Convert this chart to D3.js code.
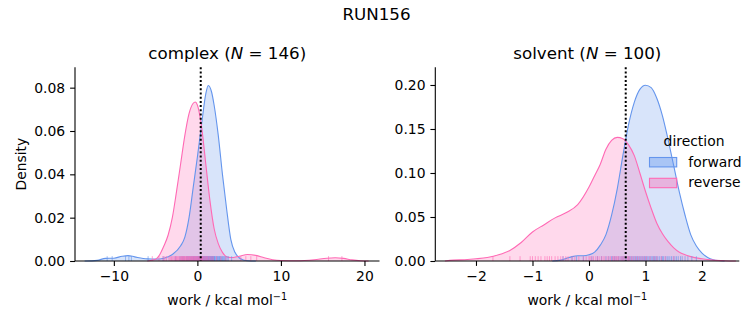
<!DOCTYPE html>
<html><head><meta charset="utf-8">
<script src="https://cdn.jsdelivr.net/npm/d3@7"></script>
<style>
body{margin:0;background:#fff;}
text{font-family:"DejaVu Sans",sans-serif;fill:#000;}
</style></head>
<body><svg id="c" width="753" height="325"></svg>
<script>
// ---- data ----
const suptitle = "RUN156";
const directions = ["forward", "reverse"];
const colors = ["#6495ED", "#FF69B4"];

// complex phase density curves
const complexForwardX = [-13.5,-12,-11,-10,-9,-8.3,-7.5,-6,-5,-4,-3,-2,-1.5,-1,-0.5,0,0.5,1,1.3,1.7,2,2.5,3,3.5,4,4.5,5,5.5,6,7];
const complexForwardY = [0,0.0003,0.0012,0.0013,0.0022,0.0025,0.0019,0.001,0.0009,0.0013,0.003,0.007,0.011,0.02,0.034,0.048,0.063,0.077,0.081,0.078,0.072,0.058,0.04,0.024,0.01,0.004,0.0015,0.0005,0.0001,0];
const complexReverseX = [-6,-5,-4.5,-4,-3.5,-3,-2.5,-2,-1.5,-1,-0.5,-0.25,0,0.5,1,1.5,2,2.5,3,3.5,4,5,6,7,8,9,10,12,14,15.5,16.5,17.5,18.5,19.5,20.5];
const complexReverseY = [0,0.0008,0.003,0.007,0.012,0.02,0.032,0.045,0.058,0.068,0.0728,0.0734,0.072,0.062,0.045,0.028,0.015,0.008,0.004,0.002,0.0016,0.0022,0.003,0.0026,0.0015,0.0006,0.0002,0.0001,0.0006,0.0013,0.0015,0.0012,0.0005,0.0001,0];
const complexForwardRug = [-10.8,-10.2,-8.6,-8.2,-7.9,-5.9,-4.1,-2.6,-2.1,-1.95,-1.8,-1.65,-1.5,-1.3,-1.2,-1.1,-1.0,-0.9,-0.8,-0.7,-0.6,-0.5,-0.45,-0.35,-0.28,-0.2,-0.12,-0.05,0.02,0.1,0.15,0.2,0.25,0.3,0.38,0.45,0.5,0.55,0.6,0.65,0.7,0.75,0.8,0.85,0.9,0.95,1.0,1.05,1.1,1.15,1.2,1.25,1.3,1.35,1.4,1.45,1.5,1.55,1.6,1.65,1.7,1.75,1.8,1.85,1.9,1.95,2.0,2.05,2.1,2.2,2.28,2.35,2.42,2.5,2.58,2.65,2.72,2.8,2.9,3.0,3.1,3.2,3.3,3.4,3.55,3.7,4.1];
const complexReverseRug = [-5.4,-4.6,-4.1,-3.9,-3.7,-3.4,-3.25,-3.1,-2.95,-2.8,-2.7,-2.6,-2.5,-2.4,-2.3,-2.2,-2.1,-2.0,-1.92,-1.85,-1.78,-1.7,-1.62,-1.55,-1.48,-1.4,-1.32,-1.25,-1.18,-1.1,-1.02,-0.95,-0.88,-0.8,-0.72,-0.65,-0.58,-0.5,-0.42,-0.35,-0.28,-0.2,-0.12,-0.05,0.02,0.1,0.18,0.25,0.32,0.4,0.48,0.55,0.62,0.7,0.8,0.9,1.0,1.1,1.2,1.3,1.45,1.6,1.75,1.9,2.3,2.8,3.4,5.2,5.8,6.4,7.1,15.7,17.3];
const complexRef = 0.4;
const complexN = 146;

// solvent phase density curves
const solventForwardX = [-0.65,-0.5,-0.4,-0.3,-0.2,-0.1,0,0.1,0.2,0.3,0.4,0.5,0.6,0.7,0.8,0.9,1.0,1.1,1.2,1.3,1.4,1.5,1.6,1.7,1.8,1.9,2.0,2.1,2.2,2.3,2.4];
const solventForwardY = [0,0.001,0.003,0.005,0.006,0.006,0.007,0.01,0.018,0.03,0.052,0.082,0.12,0.155,0.18,0.195,0.1997,0.197,0.185,0.165,0.138,0.108,0.078,0.052,0.03,0.017,0.009,0.004,0.0015,0.0005,0];
const solventReverseX = [-2.55,-2.4,-2.2,-2.0,-1.8,-1.6,-1.4,-1.2,-1.0,-0.8,-0.6,-0.4,-0.2,0,0.1,0.2,0.3,0.4,0.5,0.6,0.7,0.8,0.9,1.0,1.1,1.2,1.3,1.4,1.5,1.6,1.7,1.8,2.0,2.2,2.4,2.6];
const solventReverseY = [0,0.001,0.0015,0.0025,0.004,0.007,0.012,0.021,0.033,0.041,0.049,0.055,0.064,0.084,0.097,0.11,0.127,0.137,0.1405,0.139,0.132,0.12,0.1,0.079,0.06,0.043,0.031,0.022,0.015,0.01,0.0072,0.005,0.0025,0.001,0.0003,0];
const solventForwardRug = [-0.46,-0.3,-0.22,-0.1,0.05,0.15,0.22,0.3,0.35,0.4,0.42,0.45,0.48,0.52,0.55,0.58,0.6,0.62,0.65,0.67,0.7,0.72,0.74,0.76,0.78,0.8,0.82,0.84,0.86,0.88,0.9,0.92,0.94,0.96,0.98,1.0,1.02,1.04,1.06,1.08,1.1,1.12,1.14,1.16,1.18,1.2,1.22,1.25,1.28,1.3,1.32,1.35,1.38,1.4,1.43,1.46,1.49,1.52,1.55,1.58,1.62,1.65,1.7,1.75,1.82,1.9];
const solventReverseRug = [-1.70,-1.40,-1.22,-1.04,-1.0,-0.95,-0.9,-0.85,-0.78,-0.74,-0.7,-0.66,-0.6,-0.55,-0.5,-0.46,-0.41,-0.37,-0.3,-0.25,-0.18,-0.1,-0.05,0.0,0.02,0.05,0.08,0.12,0.15,0.18,0.22,0.25,0.28,0.32,0.35,0.38,0.42,0.44,0.46,0.48,0.5,0.52,0.55,0.58,0.6,0.62,0.65,0.68,0.7,0.72,0.75,0.78,0.82,0.86,0.9,0.94,0.98,1.02,1.08,1.15,1.2,1.28,1.35,1.5];
const solventRef = 0.65;
const solventN = 100;

const complexXTicks = [-10, 0, 10, 20];
const complexYTicks = [0, 0.02, 0.04, 0.06, 0.08];
const solventXTicks = [-2, -1, 0, 1, 2];
const solventYTicks = [0, 0.05, 0.10, 0.15, 0.20];

// ---- drawing ----
const svg = d3.select("#c");
const FS = 13.9;
const TK = 4.9;

svg.append("text").attr("x", 376.5).attr("y", 19.5).attr("text-anchor", "middle")
  .style("font-size", "16.7px").text(suptitle);

function panel(cfg) {
  const x = d3.scaleLinear().domain(cfg.xDomain).range([cfg.left, cfg.right]);
  const y = d3.scaleLinear().domain(cfg.yDomain).range([cfg.bottom, cfg.top]);
  const g = svg.append("g");
  const series = [
    {xs: cfg.fx, ys: cfg.fy, rug: cfg.frug, color: colors[0]},
    {xs: cfg.rx, ys: cfg.ry, rug: cfg.rrug, color: colors[1]}
  ];
  const area = d3.area().x(d => x(d[0])).y0(y(0)).y1(d => y(d[1])).curve(d3.curveMonotoneX);
  const line = d3.line().x(d => x(d[0])).y(d => y(d[1])).curve(d3.curveMonotoneX);
  series.forEach(s => {
    const pts = s.xs.map((v, i) => [v, s.ys[i]]);
    g.append("path").attr("d", area(pts)).attr("fill", s.color).attr("fill-opacity", 0.25);
  });
  series.forEach(s => {
    const pts = s.xs.map((v, i) => [v, s.ys[i]]);
    g.append("path").attr("d", line(pts)).attr("fill", "none").attr("stroke", s.color).attr("stroke-width", 1.1);
  });
  const rugH = 0.025 * (cfg.bottom - cfg.top);
  series.forEach(s => {
    g.selectAll(null).data(s.rug).enter().append("line")
      .attr("x1", d => x(d)).attr("x2", d => x(d))
      .attr("y1", cfg.bottom).attr("y2", cfg.bottom - rugH)
      .attr("stroke", s.color).attr("stroke-width", 1).attr("stroke-opacity", 0.6);
  });
  // reference dotted line
  g.append("line").attr("x1", x(cfg.ref)).attr("x2", x(cfg.ref))
    .attr("y1", cfg.top).attr("y2", cfg.bottom)
    .attr("stroke", "#000").attr("stroke-width", 2).attr("stroke-dasharray", "2,2.2");

  // axes
  const xa = d3.axisBottom(x).tickValues(cfg.xTicks).tickSize(TK).tickPadding(4.9)
    .tickFormat(d => d3.format("d")(d).replace("-", "\u2212"));
  const ya = d3.axisLeft(y).tickValues(cfg.yTicks).tickSize(TK).tickPadding(4.9).tickFormat(d3.format(".2f"));
  const gx = g.append("g").attr("transform", `translate(0,${cfg.bottom})`).call(xa);
  const gy = g.append("g").attr("transform", `translate(${cfg.left},0)`).call(ya);
  [gx, gy].forEach(a => {
    a.select(".domain").remove();
    a.selectAll(".tick line").attr("stroke", "#000").attr("stroke-width", 1.1);
    a.selectAll("text").style("font-size", FS + "px").style("font-family", "DejaVu Sans").attr("fill", "#000");
  });
  g.append("line").attr("x1", cfg.left).attr("x2", cfg.right).attr("y1", cfg.bottom).attr("y2", cfg.bottom)
    .attr("stroke", "#000").attr("stroke-width", 1.1);
  g.append("line").attr("x1", cfg.left).attr("x2", cfg.left).attr("y1", cfg.top).attr("y2", cfg.bottom)
    .attr("stroke", "#000").attr("stroke-width", 1.1);

  // title
  const cx = (cfg.left + cfg.right) / 2;
  const t = g.append("text").attr("x", cx).attr("y", cfg.top - 8.3).attr("text-anchor", "middle").style("font-size", "16.7px");
  t.append("tspan").text(cfg.name + " (");
  t.append("tspan").style("font-style", "italic").text("N");
  t.append("tspan").text(" = " + cfg.n + ")");
  // x label
  const xl = g.append("text").attr("x", cx).attr("y", 305).attr("text-anchor", "middle").style("font-size", FS + "px");
  xl.append("tspan").text("work / kcal mol");
  xl.append("tspan").attr("dy", -5.5).style("font-size", "9.7px").text("\u22121");
  if (cfg.ylabel) {
    g.append("text").attr("transform", `translate(26,${(cfg.top + cfg.bottom) / 2}) rotate(-90)`)
      .attr("text-anchor", "middle").style("font-size", FS + "px").text("Density");
  }
}

panel({name: "complex", n: complexN, left: 75, right: 379.5, top: 67.3, bottom: 261,
  xDomain: [-14.65, 21.8], yDomain: [0, 0.0894],
  fx: complexForwardX, fy: complexForwardY, rx: complexReverseX, ry: complexReverseY,
  frug: complexForwardRug, rrug: complexReverseRug, ref: complexRef,
  xTicks: complexXTicks, yTicks: complexYTicks, ylabel: true});
panel({name: "solvent", n: solventN, left: 435.3, right: 739.3, top: 67.3, bottom: 261,
  xDomain: [-2.72, 2.66], yDomain: [0, 0.2201],
  fx: solventForwardX, fy: solventForwardY, rx: solventReverseX, ry: solventReverseY,
  frug: solventForwardRug, rrug: solventReverseRug, ref: solventRef,
  xTicks: solventXTicks, yTicks: solventYTicks, ylabel: false});

// legend
const lg = svg.append("g");
lg.append("text").attr("x", 694).attr("y", 145.7).attr("text-anchor", "middle").style("font-size", FS + "px").text("direction");
directions.forEach((d, i) => {
  const yy = 157.5 + i * 20.8;
  lg.append("rect").attr("x", 649.5).attr("y", yy).attr("width", 27.2).attr("height", 9.4)
    .attr("fill", colors[i]).attr("fill-opacity", 0.4).attr("stroke", colors[i]).attr("stroke-width", 1.1);
  lg.append("text").attr("x", 688.3).attr("y", yy + 9).style("font-size", FS + "px").text(d);
});
</script></body></html>
